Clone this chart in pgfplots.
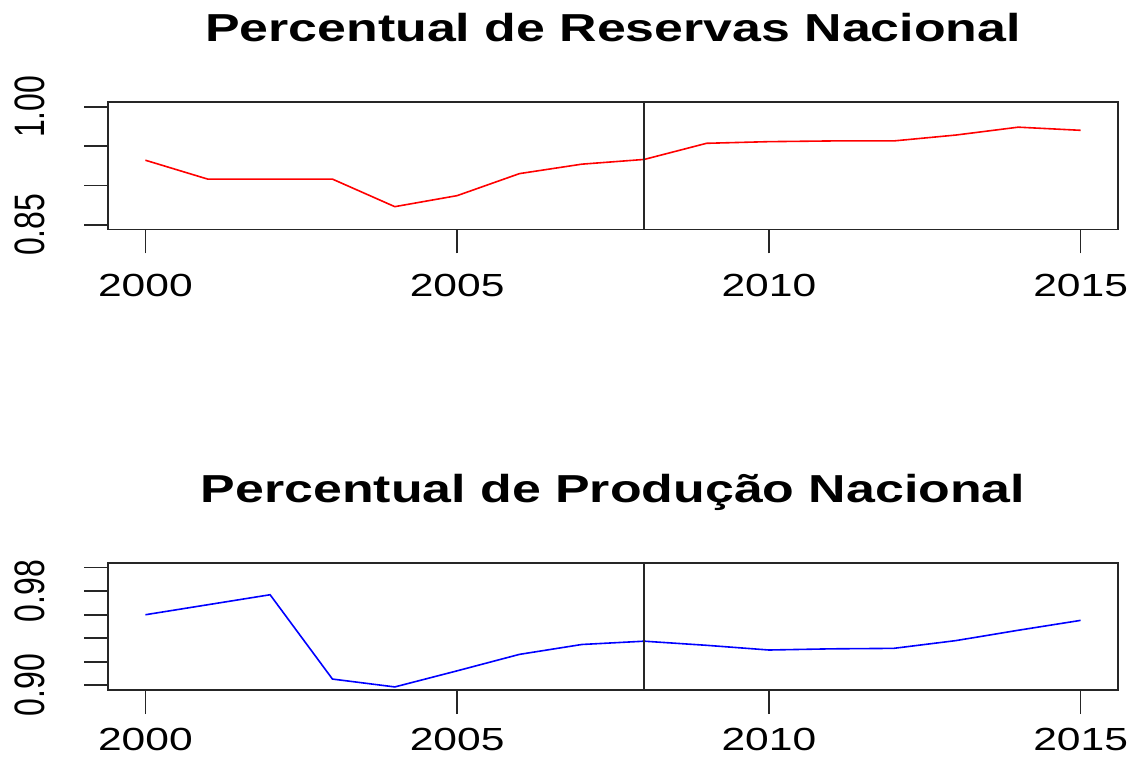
\documentclass[border=0pt]{standalone}
\usepackage{graphicx}
\usepackage{fontspec}
\setmainfont{Liberation Sans}
\usepackage{pgfplots}
\pgfplotsset{compat=1.18}
\newcommand\sx[1]{\scalebox{1.33}[1]{#1}}
\newcommand\sy[1]{\scalebox{1.33}[1]{\rotatebox{90}{#1}}}
\pgfplotstableread{
year val
2000 0.932
2001 0.908
2002 0.908
2003 0.908
2004 0.873
2005 0.887
2006 0.915
2007 0.927
2008 0.933
2009 0.9535
2010 0.9556
2011 0.9565
2012 0.9565
2013 0.964
2014 0.974
2015 0.970
}\reservas
\pgfplotstableread{
year val
2000 0.960
2001 0.9685
2002 0.977
2003 0.9053
2004 0.8986
2005 0.9123
2006 0.9263
2007 0.9347
2008 0.9375
2009 0.934
2010 0.930
2011 0.931
2012 0.9314
2013 0.938
2014 0.9468
2015 0.9552
}\producao
\pgfplotsset{
  rstyle/.style={
    scale only axis,
    width=1010bp,
    xmin=1999.4, xmax=2015.6,
    tick pos=left,
    tick align=outside,
    axis line style={black!85, line width=1.8bp},
    every tick/.style={black!85, line width=1.6bp},
    major tick length=24bp,
    xtick={2000,2005,2010,2015},
    xticklabels={\sx{2000},\sx{2005},\sx{2010},\sx{2015}},
    xticklabel style={anchor=base, yshift=-43bp, inner sep=0pt},
    yticklabel style={anchor=center, xshift=-54bp, inner sep=0pt},
    ticklabel style={font=\fontsize{32bp}{38bp}\selectfont},
    every axis title/.style={at={(0.5,1)}, anchor=base, yshift=60bp,
      font=\fontsize{39bp}{46bp}\selectfont\bfseries},
  }
}
\begin{document}
\begin{tikzpicture}[x=1bp,y=1bp]
\path[use as bounding box] (0,0) rectangle (1134,757);
\begin{axis}[rstyle,
  at={(108bp,527.5bp)}, anchor=south west,
  height=127.5bp,
  ymin=0.844, ymax=1.006,
  ytick={0.85,0.90,0.95,1.00},
  yticklabels={\sy{0.85},{},{},\sy{1.00}},
  title={\sx{Percentual de Reservas Nacional}},
]
\addplot[red, line width=1.6bp] table[x=year,y=val]{\reservas};
\addplot[black!85, line width=1.8bp] coordinates {(2008,0.844) (2008,1.006)};
\end{axis}
\begin{axis}[rstyle,
  at={(108bp,67bp)}, anchor=south west,
  height=127bp,
  ymin=0.896, ymax=1.004,
  ytick={0.90,0.92,0.94,0.96,0.98,1.00},
  yticklabels={\sy{0.90},{},{},{},\sy{0.98},{}},
  xticklabel style={yshift=7bp},
  title={\sx{Percentual de Produção Nacional}},
]
\addplot[blue, line width=1.6bp] table[x=year,y=val]{\producao};
\addplot[black!85, line width=1.8bp] coordinates {(2008,0.896) (2008,1.004)};
\end{axis}
\end{tikzpicture}
\end{document}
